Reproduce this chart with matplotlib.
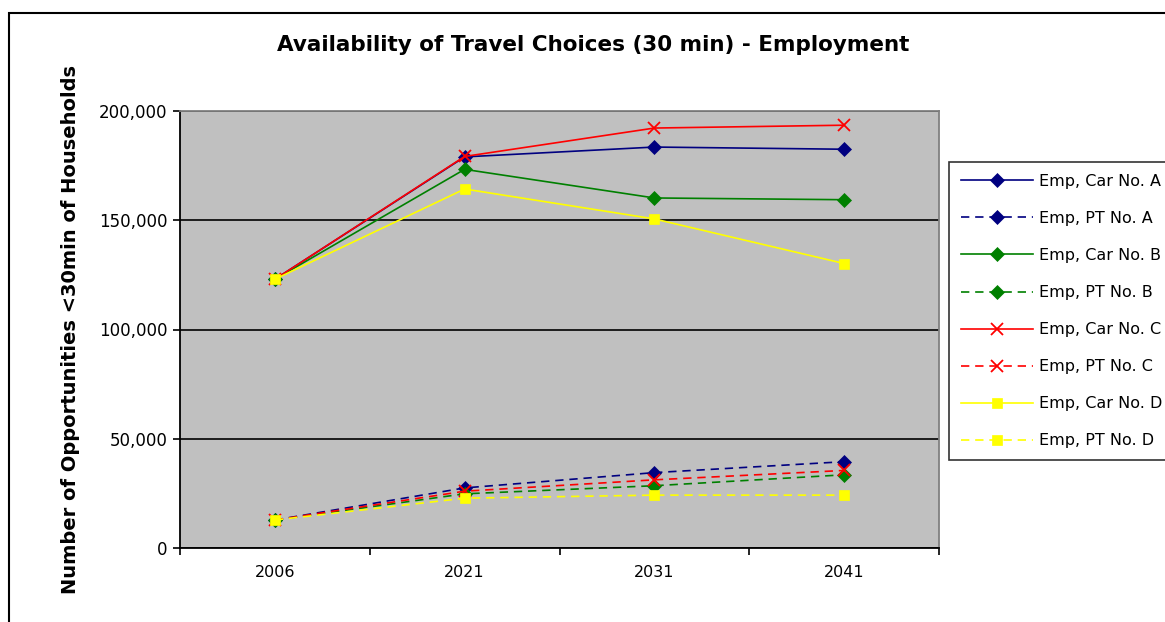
import matplotlib.pyplot as plt
import matplotlib.ticker as plticker
from matplotlib.patches import Rectangle
import numpy as np

plt.rcParams['font.family'] = ['DejaVu Sans']

years = ["2006", "2021", "2031", "2041"]

car_a = [123000, 179000, 183500, 182500]
pt_a = [12800, 27500, 34500, 39500]
car_b = [123000, 173300, 160200, 159400]
pt_b = [12800, 24800, 28500, 33500]
car_c = [123000, 179200, 192200, 193500]
pt_c = [12800, 26000, 31200, 35500]
car_d = [123000, 164300, 150600, 130200]
pt_d = [12800, 22800, 24200, 24200]

series = [
    ("Emp, Car No. A", car_a, '#000080', 'D', '-'),
    ("Emp, PT No. A", pt_a, '#000080', 'D', '--'),
    ("Emp, Car No. B", car_b, '#008000', 'D', '-'),
    ("Emp, PT No. B", pt_b, '#008000', 'D', '--'),
    ("Emp, Car No. C", car_c, '#FF0000', 'x', '-'),
    ("Emp, PT No. C", pt_c, '#FF0000', 'x', '--'),
    ("Emp, Car No. D", car_d, '#FFFF00', 's', '-'),
    ("Emp, PT No. D", pt_d, '#FFFF00', 's', '--'),
]

fig = plt.figure(figsize=(11.65, 6.22), dpi=100)
fig.patches.append(Rectangle((9 / 1165, -0.1), 1.2, 1 - 13 / 622 + 0.1,
                             transform=fig.transFigure, fill=False,
                             edgecolor='black', linewidth=1.5, clip_on=False))

ax = fig.add_axes([180 / 1165, 1 - 548 / 622, 759 / 1165, 437 / 622])
ax.set_facecolor('#C0C0C0')

x = np.arange(len(years))
for label, vals, color, marker, ls in series:
    ms = 7 if marker == 'D' else (7 if marker == 's' else 8)
    line, = ax.plot(x, vals, color=color, linestyle=ls, linewidth=1.2,
                    marker=marker, markersize=ms, markeredgewidth=1.3 if marker == 'x' else 0.5,
                    markerfacecolor=color, markeredgecolor=color, label=label)
    if ls == '--':
        line.set_dashes((5, 3.5))

ax.set_xlim(-0.5, 3.5)
ax.set_ylim(0, 200000)
ax.set_yticks(np.arange(0, 200001, 50000))
ax.yaxis.set_major_formatter(plticker.FuncFormatter(lambda v, p: "{:,.0f}".format(v)))
ax.grid(True, axis='y', color='black', linewidth=1.2)
ax.set_axisbelow(True)

ax.set_xticks(x)
ax.set_xticklabels(years)
ax.set_xticks(np.arange(-0.5, 3.6, 1), minor=True)
ax.tick_params(axis='x', which='major', length=0, labelsize=11.5, pad=12)
ax.tick_params(axis='x', which='minor', length=5, width=1.2, direction='out')
ax.tick_params(axis='y', length=5, width=1.2, direction='out', labelsize=12, pad=4)

for side in ['left', 'bottom']:
    ax.spines[side].set_color('black')
    ax.spines[side].set_linewidth(1.3)
for side in ['top', 'right']:
    ax.spines[side].set_color('#808080')
    ax.spines[side].set_linewidth(1.3)

ax.set_ylabel("Number of Opportunities <30min of Households", fontsize=14,
              fontweight='bold', labelpad=14)
fig.text(593 / 1165, 1 - 45 / 622, "Availability of Travel Choices (30 min) - Employment",
         ha='center', va='center', fontsize=15.5, fontweight='bold')

leg = ax.legend(loc='upper left', bbox_to_anchor=(949 / 1165, 1 - 162 / 622),
                bbox_transform=fig.transFigure, frameon=True, fancybox=False,
                edgecolor='black', fontsize=11.5, handlelength=4.5, handletextpad=0.375,
                labelspacing=1.38, borderpad=0.75, borderaxespad=0)
leg.get_frame().set_linewidth(1.2)
for h in leg.get_lines():
    if h.get_linestyle() == '--':
        h.set_dashes((5, 3.5))

fig.savefig("out.png", dpi=100)
